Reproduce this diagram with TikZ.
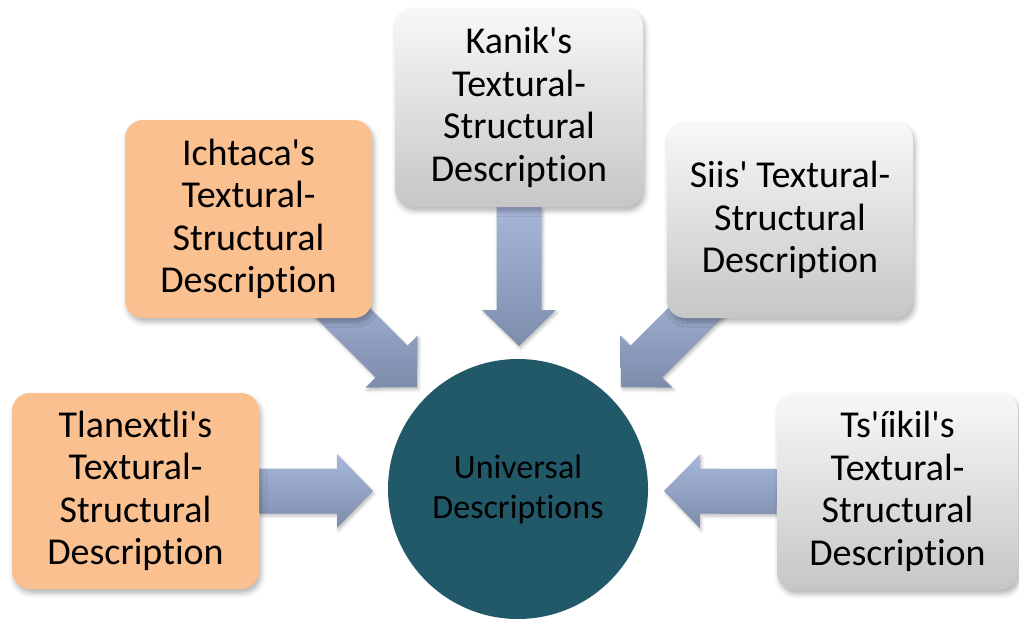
\documentclass[tikz,border=0pt]{standalone}
\usepackage{fontspec}
\setmainfont{Carlito}[Ligatures={NoCommon,NoContextual}, Contextuals=NoAlternate]
\usetikzlibrary{calc,shadows.blur}
\pgfdeclarelayer{background}
\pgfsetlayers{background,main}

\definecolor{orangebox}{RGB}{250,192,144}
\definecolor{graytop}{RGB}{248,248,248}
\definecolor{graybot}{RGB}{198,198,198}
\definecolor{hubfill}{RGB}{33,89,104}
\definecolor{arrowtop}{RGB}{167,183,218}
\definecolor{arrowbot}{RGB}{125,140,171}

\newcommand\ap{\textquotesingle}

\tikzset{
  descbox/.style={rectangle, rounded corners=18pt, align=center, inner sep=0pt,
    font=\fontsize{38}{42.5}\selectfont,
    blur shadow={shadow xshift=2pt, shadow yshift=-4pt, shadow blur radius=5pt, shadow opacity=30}},
  warmbox/.style={descbox, fill=orangebox},
  coolbox/.style={descbox, top color=graytop, bottom color=graybot},
  hub/.style={circle, fill=hubfill, inner sep=0pt, minimum size=260pt, align=center,
    font=\fontsize{34}{40}\selectfont},
  arrowfill/.style={top color=arrowtop, bottom color=arrowbot,
    blur shadow={shadow xshift=1.5pt, shadow yshift=-2.5pt, shadow blur radius=3pt, shadow opacity=25}}
}

% block arrow from #1 (start) to #2 (tip)
\newcommand\blockarrow[2]{%
  \path ($(#2)!36pt!(#1)$) coordinate (hb);
  \shade[arrowfill] ($(#1)!22.5pt!90:(#2)$) -- ($(hb)!22.5pt!-90:(#1)$)
    -- ($(hb)!37pt!-90:(#1)$) -- (#2) -- ($(hb)!37pt!90:(#1)$)
    -- ($(hb)!22.5pt!90:(#1)$) -- ($(#1)!22.5pt!-90:(#2)$) -- cycle;
}

\begin{document}
\begin{tikzpicture}[x=1pt, y=-1pt]
  \useasboundingbox (0,0) rectangle (1019,618);

  % source boxes
  \node[warmbox, minimum width=247pt, minimum height=196pt] (tl) at (135.5,491)
    {Tlanextli\ap s\\Textural-\\Structural\\Description};
  \node[warmbox, minimum width=247pt, minimum height=198pt] (ic) at (248.5,219)
    {Ichtaca\ap s\\Textural-\\Structural\\Description};
  \node[coolbox, minimum width=248pt, minimum height=199pt] (ka) at (519,107.5)
    {Kanik\ap s\\Textural-\\Structural\\Description};
  \node[coolbox, minimum width=246pt, minimum height=196pt] (si) at (790,220)
    {Siis\ap{} Textural-\\Structural\\Description};
  \node[coolbox, minimum width=241pt, minimum height=197pt] (ts) at (897.5,491.5)
    {Ts\ap íikil\ap s\\Textural-\\Structural\\Description};

  % central hub
  \node[hub] (un) at (518,489) {Universal\\Descriptions};

  % arrow tips and hidden starting points
  \coordinate (tipL) at (373,491);
  \coordinate (tipR) at (664,491);
  \coordinate (tipT) at (519,346);
  \coordinate (tipA) at (417,387);
  \coordinate (tipB) at (621,387);
  \coordinate (srcA) at (320,290);
  \coordinate (srcB) at (715,293);

  \begin{pgfonlayer}{background}
    \blockarrow{tl.east}{tipL}
    \blockarrow{ts.west}{tipR}
    \blockarrow{ka.south}{tipT}
    \blockarrow{srcA}{tipA}
    \blockarrow{srcB}{tipB}
  \end{pgfonlayer}
\end{tikzpicture}
\end{document}
